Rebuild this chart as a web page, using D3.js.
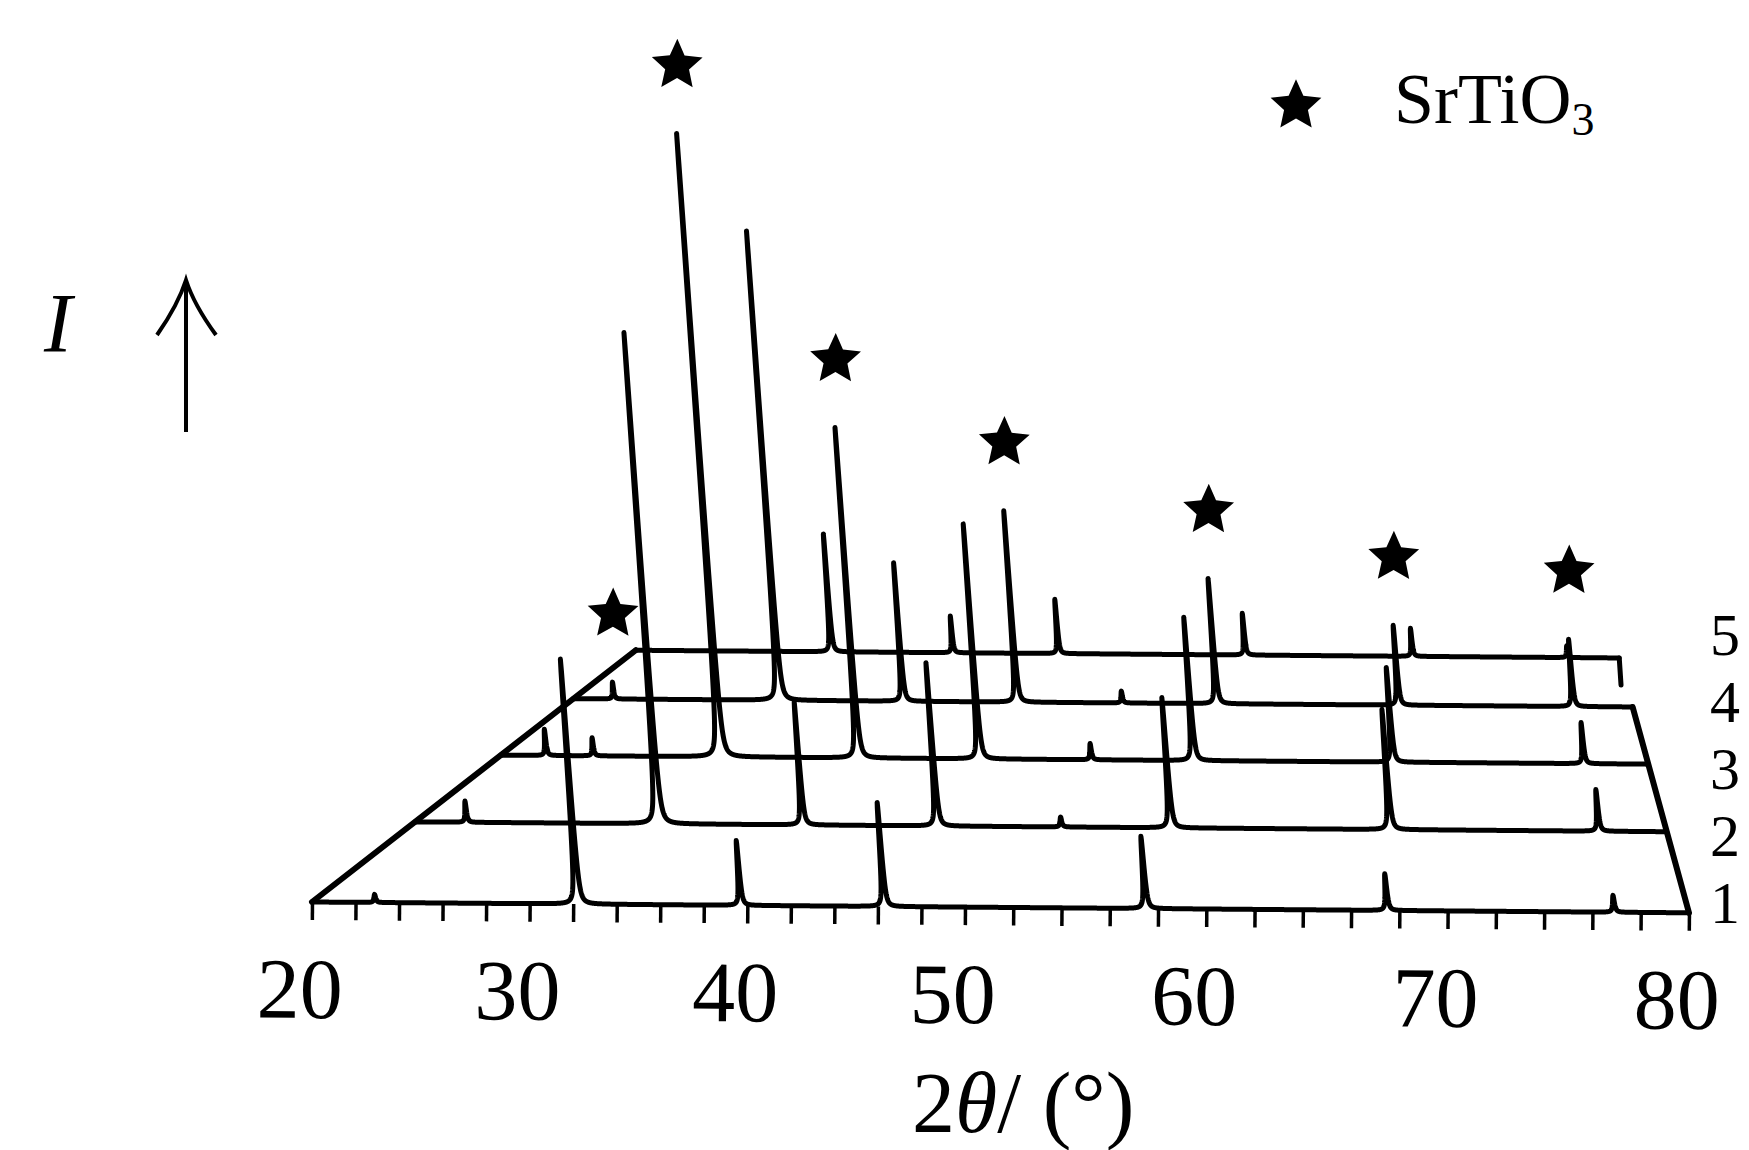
<!DOCTYPE html>
<html>
<head>
<meta charset="utf-8">
<script src="https://cdn.jsdelivr.net/npm/d3@7"></script>
<style>
  body { margin: 0; background: #fff; }
  text { font-family: "Liberation Serif", "Times New Roman", serif; fill: #000; }
</style>
</head>
<body>
<svg id="chart" width="1749" height="1150"></svg>
<script>
// samples, front (1) to back (5)
const samples = ['1', '2', '3', '4', '5'];

// peaks: [2theta (deg), relative intensity (%)]
const peaks1 = [[22.9, 1.3], [32.2, 39.3], [39.7, 10.4], [46.3, 16.7], [57.5, 11.6], [67.5, 5.9], [76.9, 2.7]];
const peaks2 = [[22.6, 3.4], [32.3, 78.8], [39.6, 19.7], [46.4, 26.2], [52.4, 1.6], [57.4, 20.9], [67.4, 19.3], [76.9, 6.7]];
const peaks3 = [[22.5, 4.2], [25.1, 2.9], [32.1, 100], [39.7, 53.0], [46.4, 37.7], [52.3, 2.6], [57.4, 23.0], [67.3, 15.2], [76.8, 6.6]];
const peaks4 = [[22.4, 2.7], [32.3, 75.3], [39.7, 22.2], [46.5, 30.7], [52.5, 1.9], [57.6, 20.1], [67.4, 12.8], [76.8, 10.8]];
const peaks5 = [[32.6, 18.9], [40.4, 5.9], [47.2, 8.7], [58.3, 6.7], [68.0, 4.5], [77.0, 1.9]];
const peakSets = [peaks1, peaks2, peaks3, peaks4, peaks5];

// SrTiO3 reflections marked with a star
const srtio3Lines = [22.8, 32.4, 40.0, 46.5, 57.8, 67.8, 77.2];

const xTicks = d3.range(20, 81, 2);
const xLabels = [20, 30, 40, 50, 60, 70, 80];

const svg = d3.select('#chart');
const ink = '#000';

// front axis is drawn a little unevenly, hence the polylinear scale
const x = d3.scaleLinear().domain([20, 50, 80]).range([312, 965, 1689]);
const h = d3.scaleLinear().domain([0, 100]).range([0, 623]);

// perspective of the stack
const frontY = 902;
const vp = { x: 1438, y: 12 };
const depthStep = 0.1;
const lean = 0.078;
const peakWidth = 0.045;
const tilt = 0.45; // whole figure sits slightly rotated on the page

function depthScale(k) { return 1 / (1 + depthStep * k); }

function project(t, k, inten) {
  const s = depthScale(k);
  const bx = vp.x + (x(t) - vp.x) * s;
  const by = vp.y + (frontY - vp.y) * s;
  const dh = h(inten);
  return [bx - lean * dh, by - dh];
}

function profile(peaks) {
  const ts = d3.range(20, 80.0001, 0.01).concat(peaks.map(p => p[0])).sort(d3.ascending);
  const w2 = peakWidth * peakWidth;
  return ts.map(t => [t, d3.sum(peaks, p => p[1] * w2 / ((t - p[0]) ** 2 + w2))]);
}

// custom, slightly plumper five-point star
const fatStar = {
  draw(context, size) {
    const r = Math.sqrt(size * 0.89);
    const ri = r * 0.47;
    for (let i = 0; i < 10; i++) {
      const a = i * Math.PI / 5 - Math.PI / 2;
      const rr = i % 2 ? ri : r;
      if (i === 0) context.moveTo(rr * Math.cos(a), rr * Math.sin(a));
      else context.lineTo(rr * Math.cos(a), rr * Math.sin(a));
    }
    context.closePath();
  }
};
const star = d3.symbol().type(fatStar).size(800);

const plot = svg.append('g').attr('transform', `rotate(${tilt},${x(20)},${frontY})`);

const lines = plot.append('g').attr('fill', 'none').attr('stroke', ink)
  .attr('stroke-linejoin', 'round').attr('stroke-linecap', 'round');

peakSets.forEach((peaks, k) => {
  const line = d3.line().x(d => project(d[0], k, d[1])[0]).y(d => project(d[0], k, d[1])[1]);
  lines.append('path')
    .attr('class', 'trace')
    .attr('d', line(profile(peaks)))
    .attr('stroke-width', 5);
});

// frame: left edge through all starts, right edge from sample 1 to 4
const frame = d3.line();
lines.append('path')
  .attr('d', frame([project(20, 0, 0), project(20, 4, 0)]))
  .attr('stroke-width', 6);
lines.append('path')
  .attr('d', frame([project(80, 0, 0), project(80, 3, 0)]))
  .attr('stroke-width', 6);
const end5 = project(80, 4, 0);
lines.append('path')
  .attr('d', frame([end5, [end5[0] + 2, end5[1] + 27]]))
  .attr('stroke-width', 5);

// front axis ticks and labels
const tickG = plot.append('g')
  .attr('transform', `translate(0,${frontY})`)
  .call(d3.axisBottom(x).tickValues(xTicks).tickSize(18).tickFormat(''));
tickG.select('.domain').remove();
tickG.selectAll('.tick line').attr('stroke', ink).attr('stroke-width', 3.5);

const labelG = plot.append('g')
  .attr('transform', `translate(0,${frontY})`)
  .call(d3.axisBottom(x).tickValues(xLabels).tickSize(0).tickFormat(d3.format('d')));
labelG.select('.domain').remove();
labelG.selectAll('.tick text')
  .attr('y', 116).attr('dy', 0).attr('dx', -12)
  .attr('font-family', '"Liberation Serif", "Times New Roman", serif')
  .attr('font-size', 86)
  .attr('fill', ink);

// stars above the tallest peak of each SrTiO3 reflection
srtio3Lines.forEach(line => {
  let best = null;
  peakSets.forEach((peaks, k) => {
    peaks.filter(p => Math.abs(p[0] - line) < 1).forEach(p => {
      const top = project(p[0], k, p[1]);
      if (!best || top[1] < best[1]) best = top;
    });
  });
  if (!best) return;
  plot.append('path')
    .attr('d', star())
    .attr('fill', ink)
    .attr('transform', `translate(${best[0]},${best[1] - 68})`);
});

svg.append('text')
  .attr('x', 912).attr('y', 1132)
  .attr('font-size', 86)
  .call(t => {
    t.append('tspan').text('2');
    t.append('tspan').attr('font-style', 'italic').text('θ');
    t.append('tspan').text('/ (°)');
  });

// sample numbers, stacked in one column at the right
const numberStep = 67;
svg.selectAll('text.sample')
  .data(samples)
  .join('text')
  .attr('class', 'sample')
  .attr('x', 1710)
  .attr('y', (d, k) => 923 - numberStep * k)
  .attr('font-size', 60)
  .text(d => d);

// legend
svg.append('path')
  .attr('d', star())
  .attr('fill', ink)
  .attr('transform', 'translate(1296,106)');
svg.append('text')
  .attr('x', 1394).attr('y', 123)
  .attr('font-size', 72)
  .call(t => {
    t.append('tspan').text('SrTiO');
    t.append('tspan').attr('font-size', 46).attr('dy', 12).text('3');
  });

// intensity arrow
svg.append('text')
  .attr('x', 58).attr('y', 352)
  .attr('font-size', 84)
  .attr('font-style', 'italic')
  .attr('text-anchor', 'middle')
  .text('I');
svg.append('path')
  .attr('d', 'M186,284 L186,432 M157,335 Q178,305 186,280 Q194,305 216,335')
  .attr('fill', 'none')
  .attr('stroke', ink)
  .attr('stroke-width', 4);
</script>
</body>
</html>
